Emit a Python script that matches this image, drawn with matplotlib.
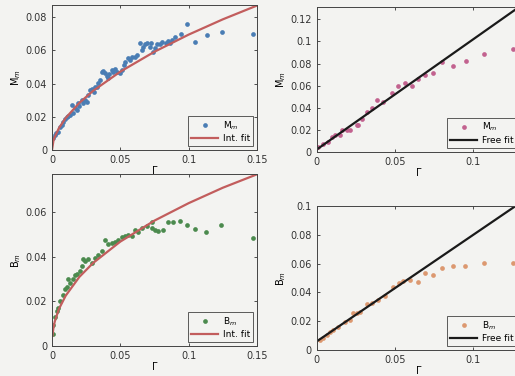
import matplotlib
matplotlib.use("Agg")
import matplotlib.pyplot as plt

# M_m, intermittent-fit panel
mm_x = [0.001, 0.0022, 0.003, 0.0046, 0.0059, 0.007, 0.0083, 0.0095, 0.0107, 0.012, 0.0132,
        0.0144, 0.0156, 0.017, 0.0181, 0.0193, 0.020, 0.0217, 0.023, 0.0242, 0.0254, 0.0266,
        0.0278, 0.029, 0.031, 0.0315, 0.033, 0.0339, 0.0351, 0.0364, 0.0376, 0.0388, 0.040,
        0.0412, 0.042, 0.0437, 0.0449, 0.046, 0.0473, 0.0498, 0.051, 0.053, 0.0534, 0.0559,
        0.057, 0.0583, 0.0608, 0.062, 0.0644, 0.0656, 0.0669, 0.068, 0.0693, 0.0718, 0.0722,
        0.0737, 0.075, 0.0771, 0.079, 0.0803, 0.0834, 0.085, 0.0864, 0.088, 0.090, 0.0944,
        0.099, 0.1047, 0.1132, 0.1242, 0.1474]
mm_y = [0.0070, 0.0090, 0.0100, 0.0110, 0.0141, 0.0150, 0.0171, 0.0185, 0.0201, 0.0205, 0.0211,
        0.0271, 0.0221, 0.0255, 0.0241, 0.0281, 0.0265, 0.0301, 0.0285, 0.0304, 0.0290, 0.0331,
        0.0362, 0.0365, 0.0350, 0.0382, 0.0380, 0.0402, 0.0422, 0.0472, 0.0477, 0.0462, 0.0445,
        0.0432, 0.0455, 0.0482, 0.0472, 0.0490, 0.0472, 0.0462, 0.0482, 0.0510, 0.0532, 0.0553,
        0.0545, 0.0562, 0.0562, 0.0575, 0.0643, 0.0603, 0.0623, 0.0640, 0.0643, 0.0623, 0.0643,
        0.0593, 0.0615, 0.0637, 0.0640, 0.0649, 0.0643, 0.0655, 0.0643, 0.0660, 0.0679, 0.0699,
        0.0759, 0.0651, 0.0695, 0.0709, 0.0699]
mm_fit_x = [0.0, 0.001, 0.002, 0.005, 0.01, 0.02, 0.03, 0.05, 0.075, 0.1, 0.125, 0.15]
mm_fit_y = [0.0, 0.0054, 0.0079, 0.0131, 0.0193, 0.0284, 0.0356, 0.0472, 0.0592, 0.0695, 0.0787, 0.0870]

# M_m, free-fit panel
mf_x = [0.001, 0.0042, 0.0074, 0.0096, 0.0117, 0.0149, 0.016, 0.0192, 0.0213, 0.0256, 0.0266,
        0.0288, 0.032, 0.0351, 0.0383, 0.0426, 0.048, 0.0522, 0.0564, 0.0607, 0.065, 0.0692,
        0.0745, 0.0799, 0.0871, 0.0951, 0.107, 0.1256]
mf_y = [0.0045, 0.0069, 0.009, 0.0135, 0.015, 0.015, 0.0195, 0.0195, 0.0195, 0.024, 0.0243,
        0.030, 0.036, 0.040, 0.0465, 0.045, 0.053, 0.060, 0.062, 0.060, 0.066, 0.070,
        0.0718, 0.081, 0.0774, 0.082, 0.089, 0.0936]
mf_fit_x = [0.0, 0.15]
mf_fit_y = [0.002, 0.152]

# B_m, intermittent-fit panel
bm_x = [0.0005, 0.001, 0.0022, 0.0034, 0.0046, 0.0059, 0.0083, 0.0095, 0.0107, 0.0119, 0.0132,
        0.0156, 0.0168, 0.0181, 0.0205, 0.0217, 0.0229, 0.0242, 0.0266, 0.029, 0.0315, 0.0339,
        0.0364, 0.0388, 0.0412, 0.0437, 0.0461, 0.0486, 0.051, 0.0534, 0.0559, 0.0583, 0.0608,
        0.0632, 0.0656, 0.0693, 0.073, 0.073, 0.0754, 0.0778, 0.0815, 0.0852, 0.0888, 0.0937,
        0.099, 0.1047, 0.1127, 0.1237, 0.1469]
bm_y = [0.0055, 0.0093, 0.0129, 0.0156, 0.0172, 0.0201, 0.0227, 0.0254, 0.0266, 0.0298, 0.0280,
        0.0298, 0.0316, 0.0324, 0.0334, 0.0360, 0.0387, 0.0380, 0.0390, 0.0372, 0.0395, 0.0408,
        0.0426, 0.0475, 0.0457, 0.0461, 0.0467, 0.0475, 0.0489, 0.0492, 0.0496, 0.0493, 0.0520,
        0.0511, 0.0528, 0.0537, 0.0555, 0.0528, 0.0520, 0.0516, 0.0520, 0.0555, 0.0555, 0.0560,
        0.0541, 0.0523, 0.0511, 0.0543, 0.0484]
bm_fit_x = [0.0003, 0.001, 0.002, 0.005, 0.01, 0.02, 0.03, 0.05, 0.075, 0.1, 0.125, 0.15]
bm_fit_y = [0.0046, 0.0079, 0.0109, 0.0165, 0.0225, 0.0309, 0.0371, 0.0467, 0.0561, 0.0639, 0.0708, 0.0768]

# B_m, free-fit panel
bf_x = [0.0021, 0.0042, 0.0064, 0.0085, 0.0106, 0.0138, 0.0181, 0.0213, 0.0234, 0.0256, 0.0277,
        0.032, 0.0351, 0.0394, 0.0436, 0.049, 0.0528, 0.0553, 0.0596, 0.065, 0.0695, 0.0745,
        0.0801, 0.0873, 0.095, 0.1067, 0.1256]
bf_y = [0.0069, 0.0083, 0.0104, 0.0127, 0.0139, 0.0162, 0.0196, 0.0208, 0.0254, 0.0254, 0.0266,
        0.032, 0.0329, 0.0347, 0.0375, 0.0439, 0.0463, 0.0481, 0.0486, 0.047, 0.0535, 0.0523,
        0.0572, 0.0583, 0.0584, 0.0605, 0.0606]
bf_fit_x = [0.0, 0.15]
bf_fit_y = [0.006, 0.117]

bg = "#f3f3f1"
plt.rcParams["font.size"] = 7
plt.rcParams["font.family"] = "DejaVu Sans"

fig = plt.figure(figsize=(5.15, 3.76), dpi=100, facecolor=bg)


def panel(pos, x, y, fx, fy, dot_color, line_color, ylab, lab, fitlab, xlim, ylim, yticks, xticks):
    ax = fig.add_axes(pos)
    ax.set_facecolor(bg)
    ax.plot(x, y, "o", ms=3.4, color=dot_color, mec="none", label=lab)
    ax.plot(fx, fy, "-", lw=1.6, color=line_color, label=fitlab)
    ax.set_xlim(*xlim)
    ax.set_ylim(*ylim)
    ax.set_xticks(xticks)
    ax.set_xticklabels(["0" if t == 0 else ("%g" % t) for t in xticks])
    ax.set_yticks(yticks)
    ax.set_yticklabels(["0" if t == 0 else ("%g" % t) for t in yticks])
    ax.tick_params(direction="in", top=True, right=True, length=2.5, width=0.6, colors="#333333")
    for s in ax.spines.values():
        s.set_color("#444444")
        s.set_linewidth(0.7)
    ax.set_xlabel("Γ", labelpad=1)
    ax.set_ylabel(ylab, labelpad=2)
    leg = ax.legend(loc="lower right", handlelength=3.0, fontsize=6.5, fancybox=False,
                    edgecolor="#333333", borderaxespad=0.4, labelspacing=0.3,
                    handletextpad=0.5, borderpad=0.35)
    leg.get_frame().set_facecolor(bg)
    leg.get_frame().set_linewidth(0.7)
    return ax


panel([0.101, 0.601, 0.398, 0.386], mm_x, mm_y, mm_fit_x, mm_fit_y, "#4a7db4", "#c25d5d",
      "M$_m$", "M$_m$", "Int. fit", (0, 0.15), (0, 0.0874),
      [0, 0.02, 0.04, 0.06, 0.08], [0, 0.05, 0.1, 0.15])
panel([0.615, 0.5965, 0.395, 0.384], mf_x, mf_y, mf_fit_x, mf_fit_y, "#c2628f", "#1a1a1a",
      "M$_m$", "M$_m$", "Free fit", (0, 0.13), (0, 0.131),
      [0, 0.02, 0.04, 0.06, 0.08, 0.1, 0.12], [0, 0.05, 0.1])
panel([0.101, 0.0798, 0.398, 0.4566], bm_x, bm_y, bm_fit_x, bm_fit_y, "#4b8a4e", "#c25d5d",
      "B$_m$", "B$_m$", "Int. fit", (0, 0.15), (0, 0.0768),
      [0, 0.02, 0.04, 0.06], [0, 0.05, 0.1, 0.15])
panel([0.615, 0.069, 0.395, 0.383], bf_x, bf_y, bf_fit_x, bf_fit_y, "#dc9870", "#1a1a1a",
      "B$_m$", "B$_m$", "Free fit", (0, 0.13), (0, 0.1),
      [0, 0.02, 0.04, 0.06, 0.08, 0.1], [0, 0.05, 0.1])

fig.savefig("out.png", dpi=100, facecolor=bg)
